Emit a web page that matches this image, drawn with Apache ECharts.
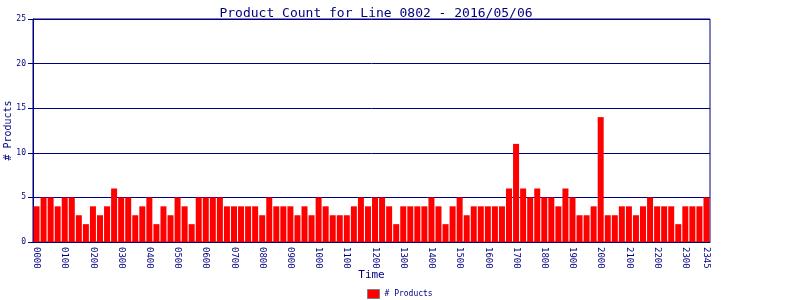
<!DOCTYPE html>
<html><head><meta charset="utf-8">
<script src="https://cdn.jsdelivr.net/npm/echarts@6/dist/echarts.min.js"></script>
<style>html,body{margin:0;padding:0;background:#fff}#c{width:800px;height:300px}</style>
</head><body><div id="c"></div>
<script>
var categories = ["0000","0015","0030","0045","0100","0115","0130","0145","0200","0215","0230","0245",
"0300","0315","0330","0345","0400","0415","0430","0445","0500","0515","0530","0545",
"0600","0615","0630","0645","0700","0715","0730","0745","0800","0815","0830","0845",
"0900","0915","0930","0945","1000","1015","1030","1045","1100","1115","1130","1145",
"1200","1215","1230","1245","1300","1315","1330","1345","1400","1415","1430","1445",
"1500","1515","1530","1545","1600","1615","1630","1645","1700","1715","1730","1745",
"1800","1815","1830","1845","1900","1915","1930","1945","2000","2015","2030","2045",
"2100","2115","2130","2145","2200","2215","2230","2245","2300","2315","2330","2345"];
var productCounts = [4,5,5,4,5,5,3,2,4,3,4,6,5,5,3,4,5,2,4,3,5,4,2,5,5,
5,5,4,4,4,4,4,3,5,4,4,4,3,4,3,5,4,3,3,3,4,5,4,5,5,
4,2,4,4,4,4,5,4,2,4,5,3,4,4,4,4,4,6,11,6,5,6,5,5,4,
6,5,3,3,4,14,3,3,4,4,3,4,5,4,4,4,2,4,4,4,5];
var seriesName = "# Products";
var titleText = "Product Count for Line 0802 - 2016/05/06";
var navy = "#000080";
var font = "DejaVu Sans Mono";
var chart = echarts.init(document.getElementById('c'));
chart.setOption({
  animation:false,
  title:{text:titleText,left:371,top:2,textAlign:'center',
    textStyle:{color:navy,fontFamily:font,fontSize:13,fontWeight:'normal'}},
  grid:{left:33,right:90,top:19,bottom:58,show:true,borderColor:navy,borderWidth:1,
    containLabel:false,outerBoundsMode:'none'},
  legend:{bottom:1,left:367,padding:0,itemWidth:12,itemHeight:9,icon:'rect',itemGap:4,
    itemStyle:{borderColor:'#808080',borderWidth:1},
    textStyle:{color:navy,fontFamily:font,fontSize:8},data:[seriesName]},
  xAxis:{type:'category',data:categories,
    axisLine:{lineStyle:{color:navy,width:1}},axisTick:{show:false},
    axisLabel:{rotate:-90,color:navy,fontFamily:font,fontSize:9,margin:5,
      interval:function(i){return i%4===0||i===categories.length-1;}},
    name:'Time',nameLocation:'middle',nameGap:28,nameMoveOverlap:false,
    nameTextStyle:{color:navy,fontFamily:font,fontSize:11}},
  yAxis:{type:'value',min:0,max:25,interval:5,
    axisLine:{show:true,lineStyle:{color:navy}},
    axisTick:{show:true,length:5,lineStyle:{color:navy}},
    splitLine:{lineStyle:{color:navy,width:1}},
    axisLabel:{color:navy,fontFamily:font,fontSize:8,margin:7},
    name:'# Products',nameLocation:'middle',nameGap:20,nameMoveOverlap:false,
    nameTextStyle:{color:navy,fontFamily:font,fontSize:10}},
  series:[{type:'bar',name:seriesName,data:productCounts,barCategoryGap:'15%',
    itemStyle:{color:'#ff0000'}}]
});
</script></body></html>
